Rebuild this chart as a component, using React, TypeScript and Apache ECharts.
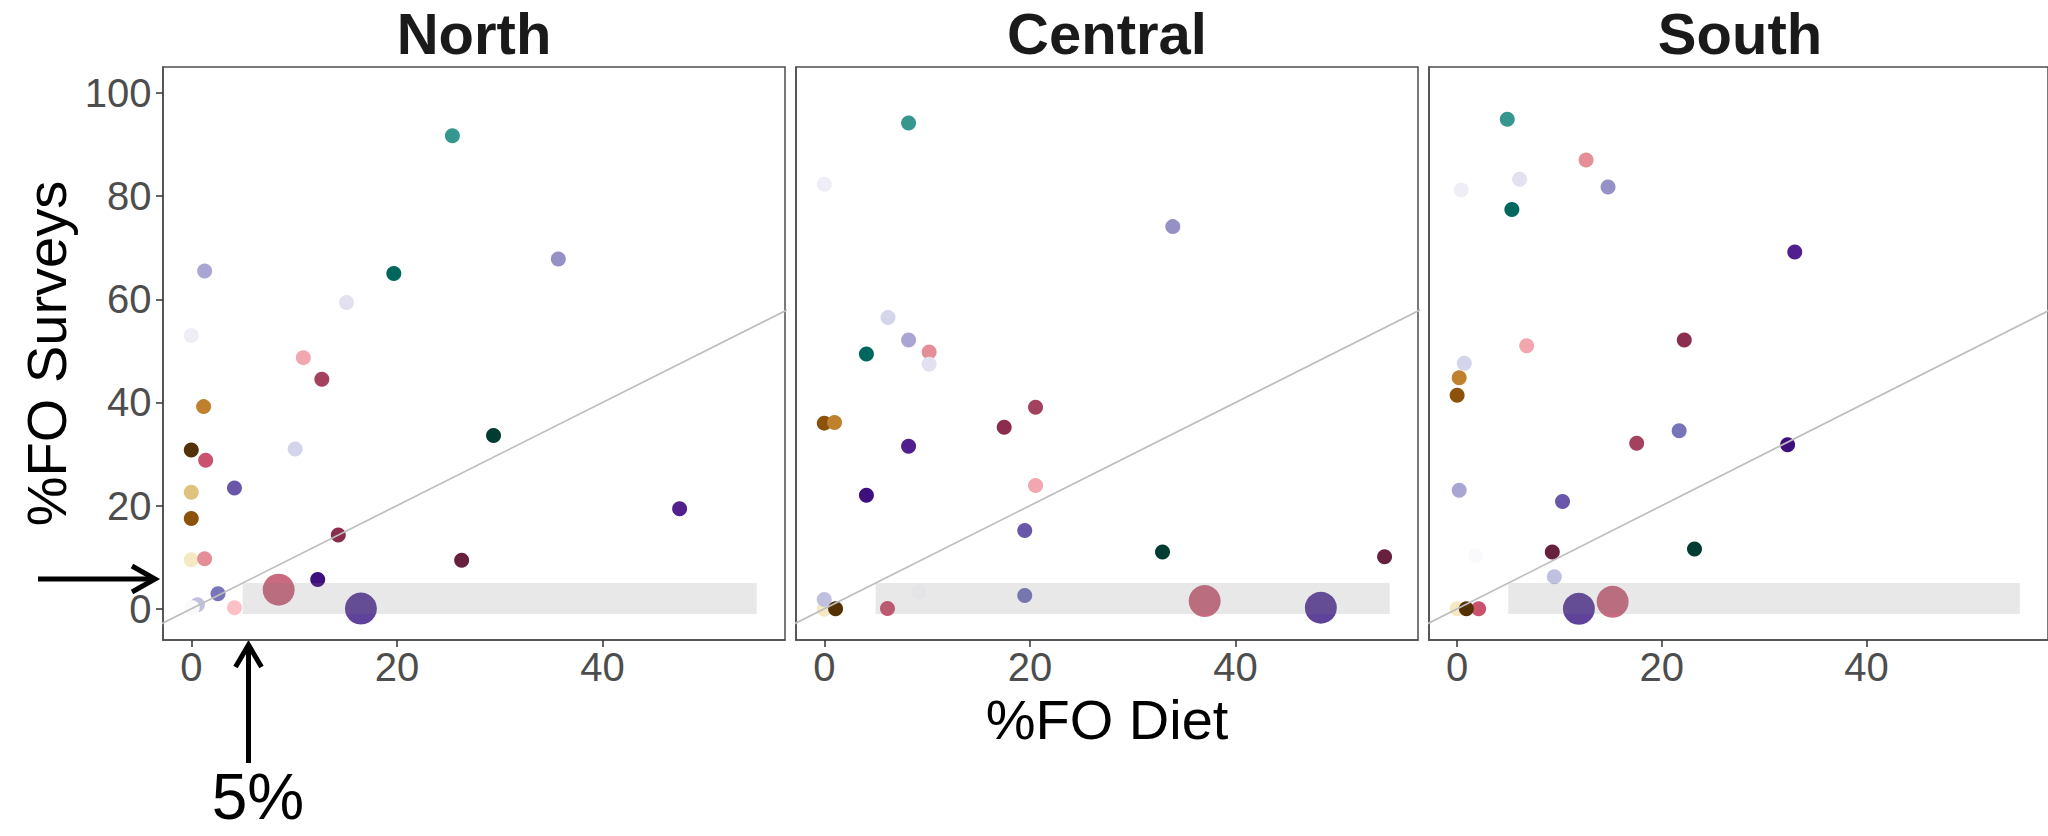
import React, { useEffect, useRef } from 'react';
import * as echarts from 'echarts';

// ---------- data ----------
const panelNames = ['North', 'Central', 'South'];

const speciesNames = [
  'nearWhite', 'whitish', 'paleLav', 'lightLav', 'lightLav2', 'lavender', 'purpleGrey',
  'periwinkle', 'medPurple', 'purple', 'darkPurple', 'focalPurple',
  'darkBrown', 'brown', 'orangeBrown', 'wheat', 'paleWheat',
  'teal', 'darkTeal', 'darkGreen',
  'lightPink', 'pink', 'pinkRose', 'rose', 'raspberry', 'wine', 'darkWine', 'focalRose',
];
const speciesColors = [
  '#FAF9FC', '#EFEDF5', '#E3E1F0', '#D4D4EA', '#C0C0E0', '#A9A6D3', '#9590C5',
  '#7774BA', '#6A57AA', '#521F8F', '#3F0F7D', '#5F4299',
  '#543005', '#8C510A', '#BF812D', '#DFC27D', '#F6E8C3',
  '#35978F', '#01665E', '#003C30',
  '#FDC1C5', '#F2A7AE', '#E48F98', '#C9536F', '#A3425E', '#8A2D4F', '#67203E', '#C96A80',
];
const focalSpecies = ['focalPurple', 'focalRose'];

// [species, %FO Diet, %FO Surveys]
const northPoints: [string, number, number][] = [
  ['paleWheat', 0, 9.5], ['wheat', 0, 22.6], ['brown', 0, 17.5], ['darkBrown', 0, 30.8], ['orangeBrown', 1.2, 39.2],
  ['teal', 25.4, 91.7], ['darkTeal', 19.7, 65.0], ['darkGreen', 29.4, 33.6],
  ['lightLav2', 0.6, 0.8], ['nearWhite', 0.1, 0.2], ['whitish', 0, 53.0], ['paleLav', 15.1, 59.4], ['lightLav', 10.1, 31.0],
  ['lavender', 1.3, 65.5], ['purpleGrey', 35.7, 67.8], ['periwinkle', 2.6, 2.9], ['medPurple', 4.2, 23.4],
  ['purple', 47.5, 19.4], ['darkPurple', 12.3, 5.7],
  ['lightPink', 4.2, 0.2], ['pink', 10.9, 48.7], ['pinkRose', 1.3, 9.7], ['rose', 1.4, 28.8], ['raspberry', 12.7, 44.5],
  ['wine', 14.3, 14.3], ['darkWine', 26.3, 9.4],
  ['focalPurple', 16.5, 0.05], ['focalRose', 8.5, 3.7],
];
const centralPoints: [string, number, number][] = [
  ['paleWheat', 0, -0.1], ['lightLav2', 0, 1.8], ['darkBrown', 1.1, 0], ['brown', 0, 36.0], ['orangeBrown', 1.0, 36.1],
  ['teal', 8.2, 94.2], ['darkTeal', 4.1, 49.4], ['darkGreen', 32.9, 11.0],
  ['nearWhite', 9.2, 3.3], ['whitish', 0, 82.3], ['lightLav', 6.2, 56.5], ['lavender', 8.2, 52.1],
  ['pinkRose', 10.2, 49.8], ['paleLav', 10.2, 47.4], ['purpleGrey', 33.9, 74.1], ['periwinkle', 19.5, 2.6],
  ['medPurple', 19.5, 15.2], ['purple', 8.2, 31.5], ['darkPurple', 4.1, 22.0],
  ['pink', 20.55, 23.9], ['rose', 6.15, 0.05], ['raspberry', 20.55, 39.1], ['wine', 17.5, 35.2], ['darkWine', 54.5, 10.1],
  ['focalPurple', 48.3, 0.2], ['focalRose', 37.0, 1.5],
];
const southPoints: [string, number, number][] = [
  ['paleWheat', 0, 0], ['rose', 2.1, 0], ['darkBrown', 0.9, 0], ['brown', 0, 41.4], ['orangeBrown', 0.2, 44.8],
  ['teal', 4.9, 94.9], ['darkTeal', 5.35, 77.4], ['darkGreen', 23.2, 11.6],
  ['nearWhite', 1.8, 10.3], ['whitish', 0.4, 81.2], ['paleLav', 6.1, 83.3], ['lightLav', 0.7, 47.6], ['lightLav2', 9.5, 6.2],
  ['lavender', 0.2, 23.0], ['purpleGrey', 14.75, 81.8], ['periwinkle', 21.7, 34.5], ['medPurple', 10.3, 20.8],
  ['purple', 33.0, 69.2], ['darkPurple', 32.3, 31.8],
  ['pink', 6.8, 51.0], ['pinkRose', 12.6, 87.0], ['raspberry', 17.55, 32.1], ['wine', 22.2, 52.1], ['darkWine', 9.3, 11.0],
  ['focalPurple', 11.9, 0], ['focalRose', 15.2, 1.35],
];
const panelPoints = [northPoints, centralPoints, southPoints];

const xTicks = [0, 20, 40];
const yTicks = [0, 20, 40, 60, 80, 100];
const xRange = [-2.75, 57.75];
const yRange = [-6.05, 105.05];
const highlightBox = [5, 55, -1, 5]; // xmin, xmax, ymin, ymax
const oneToOneLine = [[-10, -10], [120, 120]];

// ---------- layout ----------
const FONT = '"Liberation Sans", Arial, Helvetica, sans-serif';
const GRID_LEFT = [163, 796, 1429];
const GRID_TOP = 67;
const GRID_W = 622;
const GRID_H = 573;

export default function App() {
  const ref = useRef<HTMLDivElement>(null);

  useEffect(() => {
    if (!ref.current) return;
    const chart = echarts.init(ref.current, undefined, { renderer: 'svg' });
    const colorOf = (s: string) => speciesColors[speciesNames.indexOf(s)];

    const grids = GRID_LEFT.map((left) => ({
      left, top: GRID_TOP, width: GRID_W, height: GRID_H,
      show: true, borderColor: '#4D4D4D', borderWidth: 1.5, backgroundColor: 'transparent',
    }));

    const xAxes = panelNames.map((_, i) => ({
      type: 'value', gridIndex: i, min: xRange[0], max: xRange[1],
      splitLine: { show: false },
      axisLine: { show: true, onZero: false, lineStyle: { color: '#4D4D4D', width: 1.5 } },
      axisTick: { show: true, length: 7, customValues: xTicks, lineStyle: { color: '#333333', width: 1.5 } },
      axisLabel: { show: true, customValues: xTicks, fontSize: 40, color: '#4D4D4D', margin: 7, fontFamily: FONT },
      ...(i === 1 ? {
        name: '%FO Diet', nameLocation: 'middle', nameGap: 48,
        nameTextStyle: { fontSize: 56, color: '#000000', fontFamily: FONT },
      } : {}),
    }));

    const yAxes = panelNames.map((_, i) => ({
      type: 'value', gridIndex: i, min: yRange[0], max: yRange[1],
      splitLine: { show: false },
      axisLine: { show: true, onZero: false, lineStyle: { color: '#4D4D4D', width: 1.5 } },
      axisTick: { show: i === 0, length: 7, customValues: yTicks, lineStyle: { color: '#333333', width: 1.5 } },
      axisLabel: { show: i === 0, customValues: yTicks, fontSize: 40, color: '#4D4D4D', margin: 11.5, fontFamily: FONT },
      ...(i === 0 ? {
        name: '%FO Surveys', nameLocation: 'middle', nameGap: 89, nameRotate: 90,
        nameTextStyle: { fontSize: 56, color: '#000000', fontFamily: FONT },
      } : {}),
    }));

    const series: any[] = [];
    panelPoints.forEach((pts, i) => {
      series.push({
        type: 'scatter', xAxisIndex: i, yAxisIndex: i, z: 2,
        data: pts.map(([s, x, y]) => ({
          value: [x, y],
          symbolSize: focalSpecies.includes(s) ? 32 : 15,
          itemStyle: { color: colorOf(s), opacity: 1 },
        })),
      });
      series.push({
        type: 'custom', xAxisIndex: i, yAxisIndex: i, z: 3,
        data: [highlightBox],
        renderItem: (params: any, api: any) => {
          const p1 = api.coord([api.value(0), api.value(3)]);
          const p2 = api.coord([api.value(1), api.value(2)]);
          return {
            type: 'rect',
            shape: { x: p1[0], y: p1[1], width: p2[0] - p1[0], height: p2[1] - p1[1] },
            style: { fill: 'rgba(128,128,128,0.18)' },
          };
        },
      });
      series.push({
        type: 'line', xAxisIndex: i, yAxisIndex: i, z: 4, clip: true,
        data: oneToOneLine, symbol: 'none', silent: true,
        lineStyle: { color: '#BEBEBE', width: 1.7 },
      });
    });

    const centers = GRID_LEFT.map((l) => l + GRID_W / 2);
    const graphic: any[] = panelNames.map((name, i) => ({
      type: 'text', x: centers[i], y: 33,
      style: { text: name, fontSize: 58, fontWeight: 'bold', fill: '#1A1A1A', fontFamily: FONT, align: 'center', verticalAlign: 'middle' },
    }));
    // annotation arrows
    graphic.push(
      { type: 'line', shape: { x1: 38, y1: 579, x2: 153, y2: 579 }, style: { stroke: '#000', lineWidth: 5 } },
      { type: 'polyline', shape: { points: [[132, 566], [155, 579], [132, 592]] }, style: { stroke: '#000', lineWidth: 5, fill: null } },
      { type: 'line', shape: { x1: 248.5, y1: 763, x2: 248.5, y2: 647 }, style: { stroke: '#000', lineWidth: 5 } },
      { type: 'polyline', shape: { points: [[235.5, 667], [248.5, 645], [261.5, 667]] }, style: { stroke: '#000', lineWidth: 5, fill: null } },
      { type: 'text', x: 258, y: 797, style: { text: '5%', fontSize: 64, lineHeight: 64, fill: '#000', fontFamily: FONT, align: 'center', verticalAlign: 'middle' } },
    );

    chart.setOption({
      animation: false,
      backgroundColor: '#FFFFFF',
      textStyle: { fontFamily: FONT },
      grid: grids,
      xAxis: xAxes,
      yAxis: yAxes,
      series,
      graphic,
    });
    return () => chart.dispose();
  }, []);

  return <div ref={ref} style={{ position: 'fixed', left: 0, top: 0, width: 2048, height: 836 }} />;
}
